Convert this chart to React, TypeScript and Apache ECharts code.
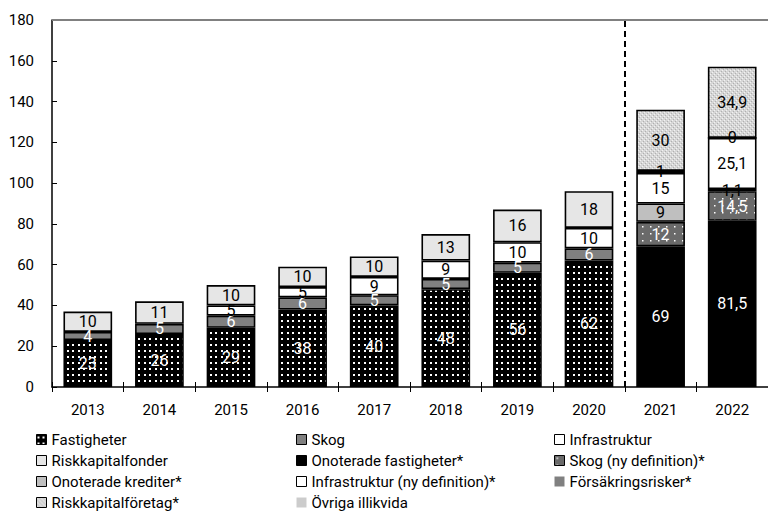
import React, { useEffect, useRef } from "react";
import * as echarts from "echarts";

const categories = ["2013", "2014", "2015", "2016", "2017", "2018", "2019", "2020", "2021", "2022"];
const fastigheter = [23, 26, 29, 38, 40, 48, 56, 62, null, null];
const skog = [4, 5, 6, 6, 5, 5, 5, 6, null, null];
const infrastruktur = [null, null, 5, 5, 9, 9, 10, 10, null, null];
const riskkapitalfonder = [10, 11, 10, 10, 10, 13, 16, 18, null, null];
const onoteradeFastigheter = [null, null, null, null, null, null, null, null, 69, 81.5];
const skogNy = [null, null, null, null, null, null, null, null, 12, 14.5];
const onoteradeKrediter = [null, null, null, null, null, null, null, null, 9, 1.1];
const infrastrukturNy = [null, null, null, null, null, null, null, null, 15, 25.1];
const forsakringsrisker = [null, null, null, null, null, null, null, null, 1, 0];
const riskkapitalforetag = [null, null, null, null, null, null, null, null, 30, 34.9];
const ovrigaIllikvida = [null, null, null, null, null, null, null, null, null, null];
const yTicks = { min: 0, max: 180, interval: 20 };
const splitBefore = "2021";

const FONT = "Roboto, 'Liberation Sans Narrow', sans-serif";

function makePattern(w: number, h: number, bg: string, dots: Array<[number, number, number, number, string]>) {
  const c = document.createElement("canvas");
  c.width = w;
  c.height = h;
  const ctx = c.getContext("2d")!;
  ctx.fillStyle = bg;
  ctx.fillRect(0, 0, w, h);
  dots.forEach(([x, y, dw, dh, col]) => {
    ctx.fillStyle = col;
    ctx.fillRect(x, y, dw, dh);
  });
  return c;
}

export default function App() {
  const ref = useRef<HTMLDivElement>(null);
  useEffect(() => {
    document.body.style.margin = "0";
    const chart = echarts.init(ref.current!, null, { renderer: "svg" });

    const dotsBlack = makePattern(11, 6, "#000000", [
      [1, 2, 2, 2, "#ffffff"],
      [6, 2, 2, 2, "#ffffff"],
    ]);
    const dotsGray = makePattern(8, 7, "#6a6a6a", [[2, 2, 1.5, 1.5, "#ffffff"]]);
    const checker = makePattern(4, 4, "#d6d6d6", [
      [0, 0, 1, 1, "#f2f2f2"],
      [2, 2, 1, 1, "#f2f2f2"],
      [1, 3, 1, 1, "#b0b0b0"],
      [3, 1, 1, 1, "#b0b0b0"],
    ]);
    const pat = (img: HTMLCanvasElement) => ({ image: img, repeat: "repeat" });

    const fmt = (p: any) => (p.value == null ? "" : String(p.value).replace(".", ","));

    const mk = (name: string, data: (number | null)[], color: any, labelColor: string) => ({
      name,
      type: "bar",
      stack: "total",
      barWidth: "68%",
      xAxisIndex: 0,
      yAxisIndex: 0,
      data,
      itemStyle: { color, borderColor: "#000", borderWidth: 1.6 },
      label: {
        show: true,
        position: "inside",
        formatter: fmt,
        color: labelColor,
        fontSize: 16,
        fontFamily: FONT,
      },
    });

    const series: any[] = [
      mk("Fastigheter", fastigheter, pat(dotsBlack), "#ffffff"),
      mk("Skog", skog, "#808080", "#ffffff"),
      mk("Infrastruktur", infrastruktur, "#ffffff", "#000000"),
      mk("Riskkapitalfonder", riskkapitalfonder, "#e6e6e6", "#000000"),
      mk("Onoterade fastigheter*", onoteradeFastigheter, "#000000", "#ffffff"),
      mk("Skog (ny definition)*", skogNy, pat(dotsGray), "#ffffff"),
      mk("Onoterade krediter*", onoteradeKrediter, "#bfbfbf", "#000000"),
      mk("Infrastruktur (ny definition)*", infrastrukturNy, "#ffffff", "#000000"),
      mk("Försäkringsrisker*", forsakringsrisker, "#808080", "#000000"),
      mk("Riskkapitalföretag*", riskkapitalforetag, pat(checker), "#000000"),
      mk("Övriga illikvida", ovrigaIllikvida, "#cccccc", "#000000"),
      {
        type: "line",
        xAxisIndex: 2,
        yAxisIndex: 0,
        data: [],
        silent: true,
        clip: false,
        markLine: {
          silent: true,
          symbol: "none",
          label: { show: false },
          data: [
            {
              xAxis: categories.indexOf(splitBefore),
              lineStyle: { color: "#000", type: [6, 4], width: 2 },
            },
          ],
        },
      },
    ];

    const legendBase = {
      orient: "vertical",
      top: 432,
      height: 120,
      padding: 0,
      itemWidth: 10,
      itemHeight: 10,
      itemGap: 6,
      icon: "rect",
      selectedMode: false,
      itemStyle: { borderWidth: 1 },
      textStyle: { fontSize: 15, lineHeight: 14, fontFamily: FONT, color: "#000" },
    };
    const noBorder = { borderWidth: 0 };

    chart.setOption({
      animation: false,
      backgroundColor: "#ffffff",
      grid: { left: 52, right: -2, top: 20, bottom: 124, containLabel: false },
      xAxis: [
        {
          type: "category",
          data: categories,
          position: "bottom",
          axisLine: { lineStyle: { color: "#000", width: 1.5 } },
          axisTick: { show: true, inside: false, length: 5, lineStyle: { color: "#000" } },
          axisLabel: { fontSize: 15, fontFamily: FONT, color: "#000", margin: 15 },
          splitLine: { show: false },
        },
        {
          type: "category",
          data: categories,
          position: "bottom",
          axisLine: { show: false },
          axisTick: { show: true, inside: true, length: 5, lineStyle: { color: "#000" } },
          axisLabel: { show: false },
        },
        { type: "value", min: 0, max: categories.length, show: false, position: "top" },
      ],
      yAxis: [
        {
          type: "value",
          min: yTicks.min,
          max: yTicks.max,
          interval: yTicks.interval,
          axisLine: { show: true, lineStyle: { color: "#000", width: 1.5 } },
          axisTick: { show: true, inside: true, length: 5, lineStyle: { color: "#000" } },
          axisLabel: { fontSize: 15, fontFamily: FONT, color: "#000", margin: 18 },
          splitLine: { show: false },
          z: 3,
        },
      ],
      legend: [
        {
          ...legendBase,
          left: 36,
          data: [
            { name: "Fastigheter" },
            { name: "Riskkapitalfonder" },
            { name: "Onoterade krediter*" },
            { name: "Riskkapitalföretag*" },
          ],
        },
        {
          ...legendBase,
          left: 296,
          data: [
            { name: "Skog" },
            { name: "Onoterade fastigheter*" },
            { name: "Infrastruktur (ny definition)*" },
            { name: "Övriga illikvida", itemStyle: noBorder },
          ],
        },
        {
          ...legendBase,
          left: 554,
          data: [
            { name: "Infrastruktur" },
            { name: "Skog (ny definition)*" },
            { name: "Försäkringsrisker*", itemStyle: noBorder },
          ],
        },
      ],
      series,
    });

    // top frame line of the plot area, placed from the y-axis scale
    const pt = chart.convertToPixel({ yAxisIndex: 0 }, yTicks.max) as unknown as number;
    const yTop = typeof pt === "number" && isFinite(pt) ? pt : 20;
    const gridW = chart.getWidth();
    chart.setOption({
      graphic: [
        {
          type: "rect",
          z: 100,
          silent: true,
          shape: { x: 52, y: yTop - 1, width: gridW - 52, height: 2 },
          style: { fill: "#808080" },
        },
      ],
    });
    return () => chart.dispose();
  }, []);
  return <div ref={ref} style={{ width: 768, height: 511 }} />;
}
